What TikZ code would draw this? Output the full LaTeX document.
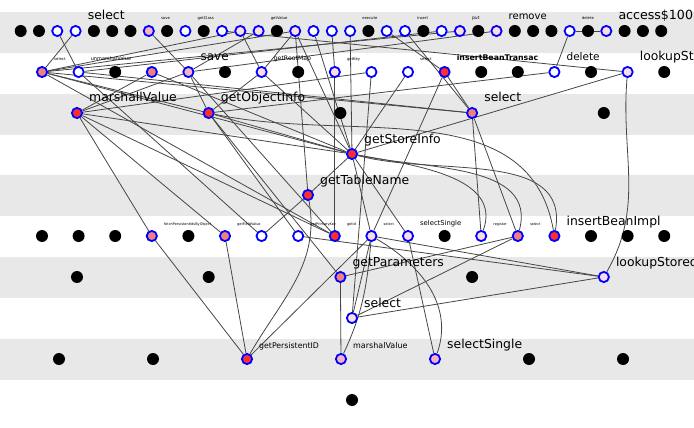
\documentclass[tikz,border=0pt]{standalone}
\usepackage{fontspec}
\setmainfont{DejaVu Sans}
\usetikzlibrary{calc}
\definecolor{bandgray}{RGB}{232,232,232}
\definecolor{ringblue}{RGB}{0,0,255}
\definecolor{linkgray}{RGB}{70,70,70}
\definecolor{nodered}{RGB}{255,45,45}
\definecolor{nodesalmon}{RGB}{240,128,128}
\definecolor{nodepink}{RGB}{245,180,190}
\definecolor{nodepale}{RGB}{252,222,226}
\pgfdeclarelayer{bands}
\pgfdeclarelayer{links}
\pgfsetlayers{bands,links,main}

\begin{document}
\begin{tikzpicture}[x=1pt,y=1pt,
    nB/.style={circle,fill=black,minimum size=12pt,inner sep=0pt},
    ring/.style={circle,draw=ringblue,line width=1.8pt,minimum size=10.2pt,inner sep=0pt},
    nW/.style={ring,fill=white},
    nL/.style={ring,fill=nodepale},
    nP/.style={ring,fill=nodepink},
    nS/.style={ring,fill=nodesalmon},
    nR/.style={ring,fill=nodered},
    lbl/.style={anchor=base west,inner sep=0pt},
    link/.style={draw=linkgray,line width=0.8pt}]
    \useasboundingbox (0,0) rectangle (694,-428);
    \begin{pgfonlayer}{bands}
        \foreach \r in {0,...,4}
            \fill[bandgray] (0,{-12-81.7*\r}) rectangle (694,{-52.8-81.7*\r});
    \end{pgfonlayer}
    % rows of methods
    \foreach \t [count=\i from 0] in {B,B,W,W,B,B,B,P,B,W,B,W,L,L,B,L,W,W,W,B,W,W,B,W,L,B,L,B,B,B,W,B,L,B,B,B}
        \node[n\t] (a\i) at ({20.7+18.3*\i},-31) {};
    \foreach \t [count=\i from 0] in {S,W,B,S,P,B,L,B,L,W,W,R,B,B,W,B,L,B}
        \node[n\t] (b\i) at ({42+36.6*\i},-72) {};
    \foreach \t [count=\i from 0] in {R,R,B,S,B}
        \node[n\t] (c\i) at ({77+131.7*\i},-113) {};
    \node[nR] (d0) at (352,-154) {};
    \node[nR] (e0) at (308,-195) {};
    \foreach \t [count=\i from 0] in {B,B,B,S,B,S,W,W,R,L,L,B,L,S,R,B,B,B}
        \node[n\t] (f\i) at ({42+36.6*\i},-236) {};
    \foreach \t [count=\i from 0] in {B,B,S,B,L}
        \node[n\t] (g\i) at ({77+131.7*\i},-277) {};
    \node[nL] (h0) at (352,-318) {};
    \foreach \t [count=\i from 0] in {B,B,R,P,P,B,B}
        \node[n\t] (k\i) at ({59+94*\i},-359) {};
    \node[nB] (m0) at (352,-400) {};
    % calls
    \begin{pgfonlayer}{links}
        \foreach \u/\v in {a3/b0,a2/b1,a7/b4,b0/a12,b0/a15,a12/b6,a13/b4,a15/b6,a15/e0,a15/d0,
            a16/d0,a18/d0,a17/b8,a20/b11,a21/c3,a24/b0,a23/b1,a26/b4,a30/b14,a30/a32,b16/a11,
            b16/d0,b14/c1,b0/c1,b0/d0,b0/f8,b0/c3,b1/c3,b1/f6,b3/c0,b3/d0,b4/f8,c1/b4,c1/b6,
            c0/b4,c0/b9,c0/f3,c0/f5,c0/f8,c0/d0,c1/d0,c1/f7,c1/g2,d0/e0,e0/f6,b6/d0,b10/d0,
            b11/f9,b11/c3,b9/h0,b8/f8,c3/f13,c3/f12,f3/k2,f5/k2,f9/k2,g2/k3,g2/f13,f13/h0,
            f7/g4,f9/g4,h0/g4,h0/f9,f10/k4,d0/f10,d0/f9}
            \draw[link] (\u) -- (\v);
        \draw[link] (d0) to[out=-10,in=70] (f12);
        \draw[link] (d0) to[out=-12,in=75] (f13);
        \draw[link] (d0) to[out=-15,in=80] (f14);
        \draw[link] (c1) to[out=-12,in=100] (f14);
        \draw[link] (e0) to[out=-80,in=60] (k2);
        \draw[link] (k3) to[out=65,in=-95] (f9);
        \draw[link] (f9) to[out=-30,in=70] (k4);
        \draw[link] (b16) to[out=-95,in=60] (g4);
    \end{pgfonlayer}
    % method names
    \foreach \n/\s/\txt in {a3/12.4/select,a7/3.8/save,a9/3.8/getClass,a13/3.8/getValue,
        a18/3.8/execute,a21/3.8/insert,a24/4.5/put,a26/10/remove,a30/3.8/delete,
        a32/12.6/access\$100,b0/3.8/select,b1/5/unmarshalValue,b4/12/save,b6/6.2/getRootMap,
        b8/3.8/getKey,b10/3.8/select,b14/10.5/delete,b16/12.4/lookupStoredProcedure,
        c0/12.4/marshallValue,c1/12.4/getObjectInfo,c3/12.4/select,d0/12.4/getStoreInfo,
        e0/12.4/getTableName,f3/3.5/fetchPersistentIdsByObject,f5/3.5/getFieldValue,
        f7/3.5/getPrimaryKey,f8/3.5/getId,f9/3.5/select,f10/6.8/selectSingle,f12/3.5/register,
        f13/3.5/select,f14/12.4/insertBeanImpl,g2/12.4/getParameters,
        g4/12.4/lookupStoredProcedure,h0/12.4/select,k2/7.8/getPersistentID,
        k3/8/marshalValue,k4/12.4/selectSingle}
        \node[lbl,font=\fontsize{\s}{\s}\selectfont] (t-\n) at ($(\n)+(12,11)$) {\txt};
    \node[lbl,font=\fontsize{7.8}{7.8}\selectfont\bfseries] (t-b11) at ($(b11)+(12,11)$) {insertBeanTransac};
\end{tikzpicture}
\end{document}
